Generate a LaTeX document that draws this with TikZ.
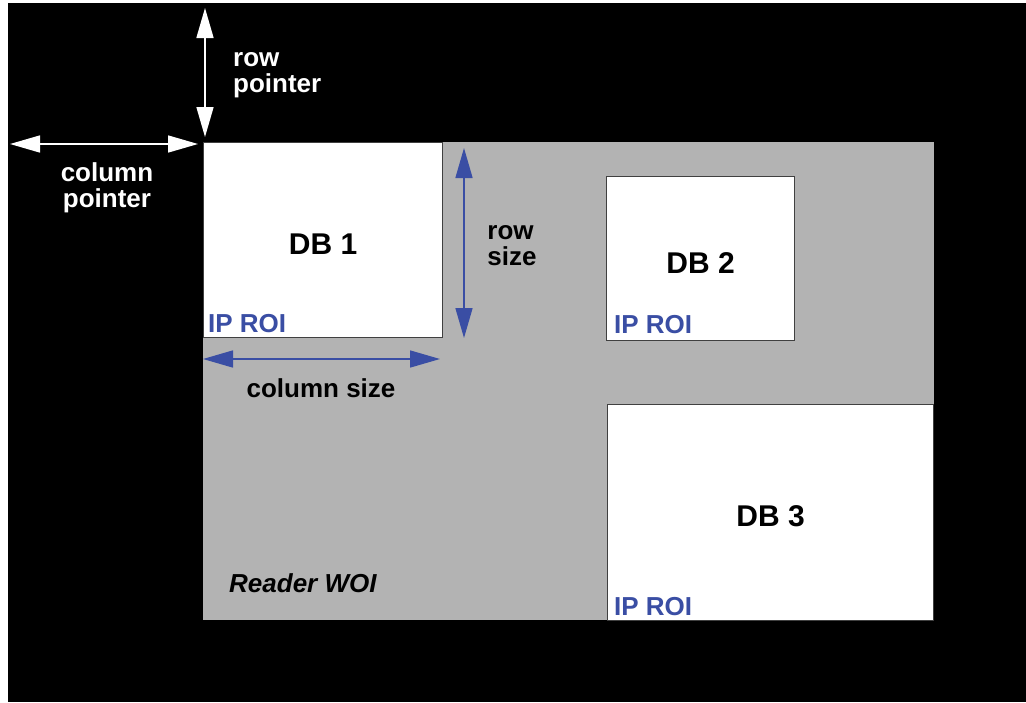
\documentclass[tikz,border=0pt]{standalone}
\usepackage{fontspec}
\setmainfont{Liberation Sans}
\usetikzlibrary{arrows.meta,positioning}
\definecolor{woigray}{RGB}{179,179,179}
\definecolor{roiblue}{RGB}{58,78,164}
\definecolor{boxedge}{RGB}{64,64,64}
\begin{document}
\begin{tikzpicture}[x=1pt,y=-1pt,
		woi/.style={fill=woigray, draw=none, inner sep=0pt, anchor=north west},
		dbbox/.style={draw=boxedge, fill=white, line width=1.2pt, inner sep=0pt, anchor=north west,
			text height=29pt, font=\bfseries\fontsize{30}{34}\selectfont},
		roi/.style={text=roiblue, font=\bfseries\fontsize{26}{28}\selectfont, inner sep=0pt, anchor=south west},
		lbl/.style={font=\bfseries\fontsize{26}{26}\selectfont, inner sep=0pt},
		ptr/.style={white, line width=1.5pt, {Triangle[width=17pt,length=30pt]}-{Triangle[width=17pt,length=30pt]}},
		dim/.style={roiblue, line width=1.5pt, {Triangle[width=17pt,length=30pt]}-{Triangle[width=17pt,length=30pt]}}
		]
		
		\useasboundingbox (0,0) rectangle (1026,702);
		\fill[black] (8,3) rectangle (1026,702);
		
		% window and buffers
		\node[woi, minimum width=731pt, minimum height=478pt] (woi) at (203,142) {};
		\node[dbbox, minimum width=239pt, minimum height=195pt] (db1) at (203,142) {DB 1};
		\node[dbbox, minimum width=188pt, minimum height=164pt] (db2) at (606,176) {DB 2};
		\node[dbbox, minimum width=326pt, minimum height=216pt] (db3) at (607,404) {DB 3};
		
		\node[roi] (roi1) at ([shift={(5,-5)}]db1.south west) {IP ROI};
		\node[roi] (roi2) at ([shift={(8,-7)}]db2.south west) {IP ROI};
		\node[roi] (roi3) at ([shift={(7,-5)}]db3.south west) {IP ROI};
		\node[lbl, font=\bfseries\itshape\fontsize{26}{28}\selectfont, anchor=west] (woilbl) at (229,583) {Reader WOI};
		
		% pointers
		\coordinate (rowtop) at (205,8);
		\coordinate (rowbot) at (205,137);
		\coordinate (colleft) at (10,144);
		\coordinate (colright) at (198,144);
		\draw[ptr] (rowtop) -- (rowbot);
		\draw[ptr] (colleft) -- (colright);
		\node[lbl, white, align=left, anchor=west] (rowptr) at (233,75) {row\\pointer};
		\node[lbl, white, align=center] (colptr) at (107,188) {column\\pointer};
		
		% sizes
		\coordinate (sizetop) at (464,148);
		\coordinate (sizebot) at (464,338);
		\coordinate (sizeleft) at (203,359);
		\coordinate (sizeright) at (440,359);
		\draw[dim] (sizetop) -- (sizebot);
		\draw[dim] (sizeleft) -- (sizeright);
		\node[lbl, align=left] (rowsize) at (512,246) {row\\size};
		\node[lbl] (colsize) at (321,388) {column size};
		
	\end{tikzpicture}
\end{document}
